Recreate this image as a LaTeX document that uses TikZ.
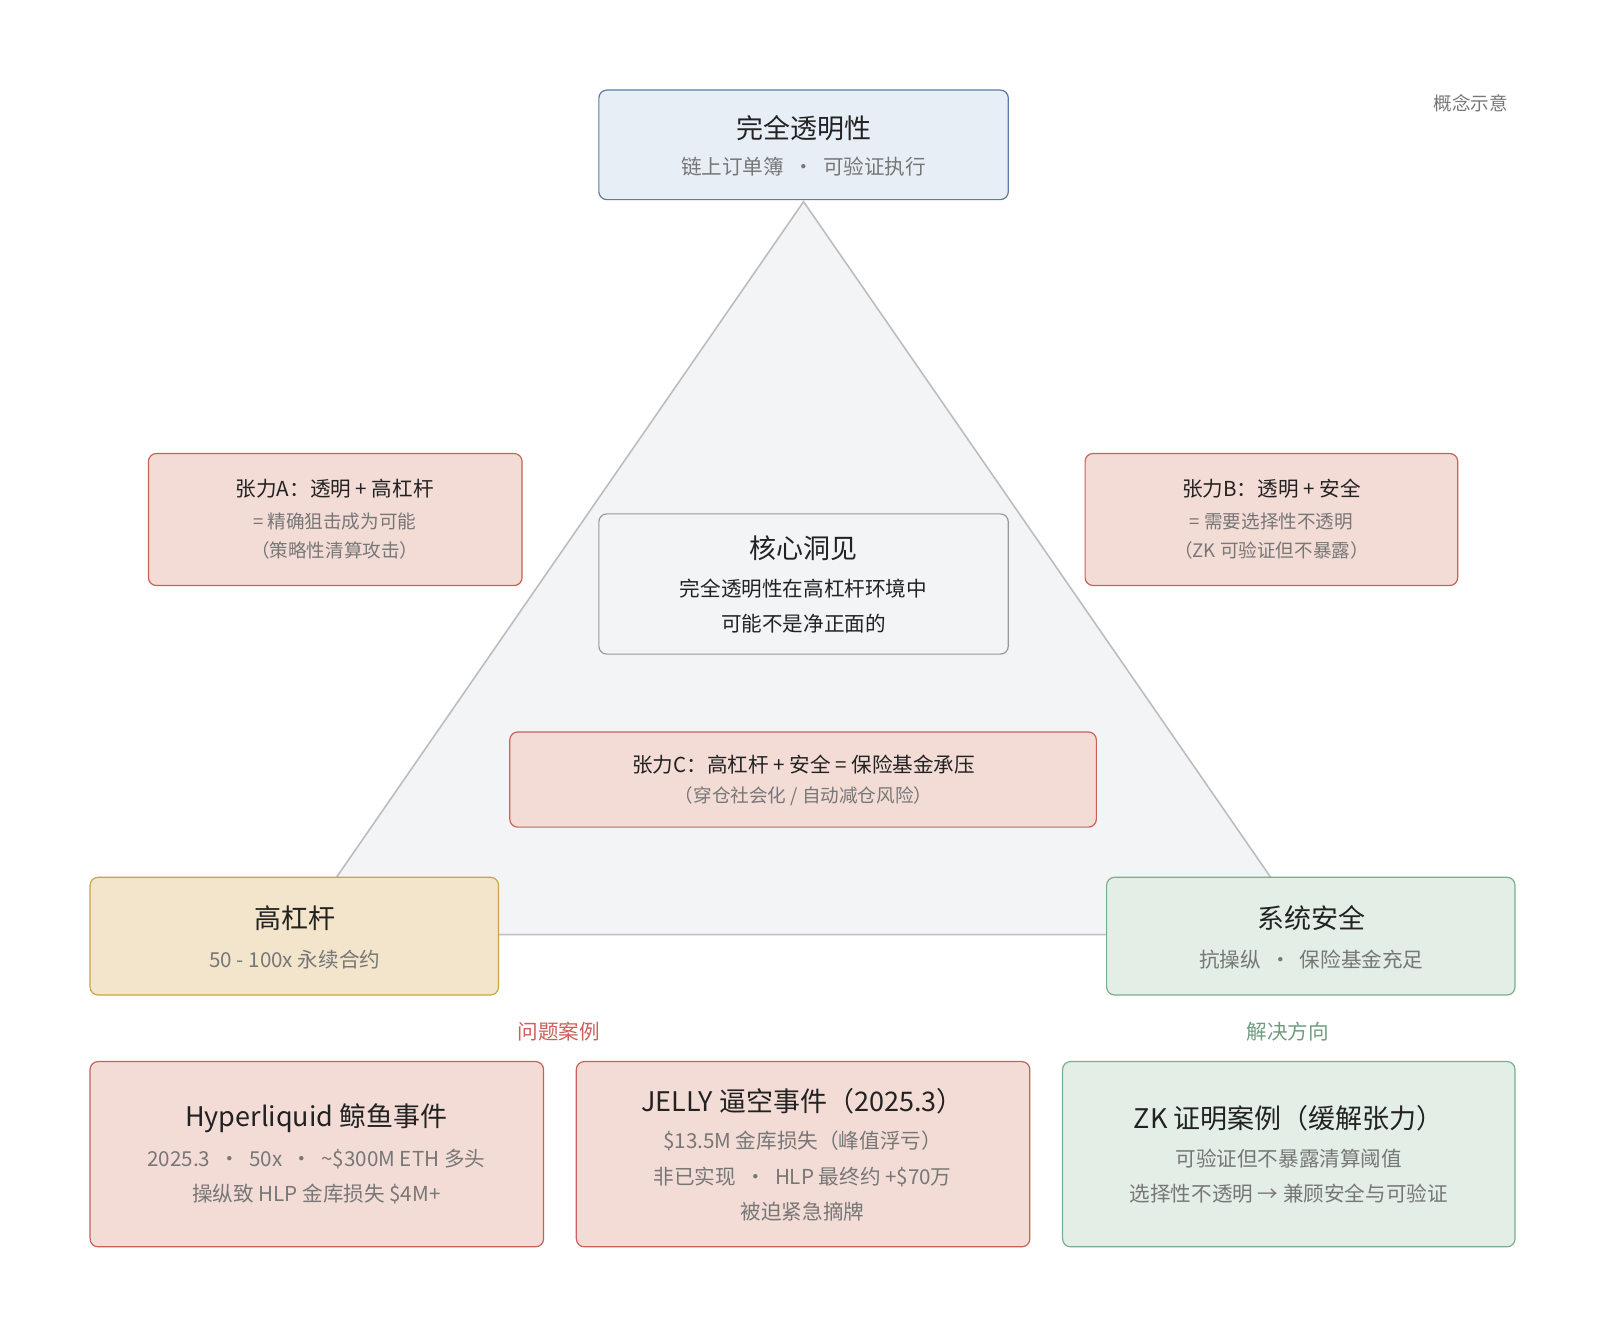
\documentclass[tikz,border=0pt]{standalone}
\usepackage{fontspec}
\setmainfont{Noto Sans CJK SC}
\usetikzlibrary{positioning}
\definecolor{blueF}{HTML}{E8EEF6}\definecolor{blueD}{HTML}{5B7BA0}
\definecolor{redF}{HTML}{F3DCD6}\definecolor{redD}{HTML}{C9605A}
\definecolor{yelF}{HTML}{F2E5CC}\definecolor{yelD}{HTML}{C9A544}
\definecolor{grnF}{HTML}{E2EEE6}\definecolor{grnD}{HTML}{7BAE8C}
\definecolor{triF}{HTML}{F3F4F6}\definecolor{triD}{HTML}{BBBDC0}
\definecolor{txt}{HTML}{222222}\definecolor{sub}{HTML}{777777}
\tikzset{
  box/.style={draw, rounded corners=4pt, line width=0.6pt, inner sep=0pt},
  bluebox/.style={box, fill=blueF, draw=blueD},
  redbox/.style={box, fill=redF, draw=redD},
  yelbox/.style={box, fill=yelF, draw=yelD},
  grnbox/.style={box, fill=grnF, draw=grnD},
  corebox/.style={box, fill=triF, draw=gray!80},
  big/.style={font=\fontsize{13.5}{15}\selectfont, text=txt},
  mid/.style={font=\fontsize{10.3}{12}\selectfont, text=txt},
  lo/.style={font=\fontsize{10.3}{12}\selectfont, text=sub},
  small/.style={font=\fontsize{9.3}{11}\selectfont, text=sub},
}
\begin{document}
\begin{tikzpicture}[x=0.5118pt,y=-0.5118pt]
  \useasboundingbox (0,0) rectangle (1563,1302);

  % triangle
  \coordinate (apex) at (785,197);
  \coordinate (bl) at (290,913);
  \coordinate (br) at (1280,913);
  \filldraw[fill=triF, draw=triD, line width=0.8pt] (apex) -- (bl) -- (br) -- cycle;

  \node[small, anchor=east] (note) at (1480,101) {概念示意};

  % corners
  \draw[bluebox] (585,88) rectangle (985,195);
  \node[big] (topT) at (785,125) {完全透明性};
  \node[lo] (topS) at (785,163) {链上订单簿 \ · \ 可验证执行};

  \draw[yelbox] (88,857) rectangle (487,972);
  \node[big] (levT) at (288,897) {高杠杆};
  \node[lo] (levS) at (288,937) {50 - 100x 永续合约};

  \draw[grnbox] (1081,857) rectangle (1480,972);
  \node[big] (secT) at (1281,897) {系统安全};
  \node[lo] (secS) at (1281,937) {抗操纵 \ · \ 保险基金充足};

  % tensions
  \draw[redbox] (145,443) rectangle (510,572);
  \node[mid] (tA) at (327,477) {张力A：透明 + 高杠杆};
  \node[small] (tA2) at (327,509) {= 精确狙击成为可能};
  \node[small] (tA3) at (327,538) {（策略性清算攻击）};

  \draw[redbox] (1060,443) rectangle (1424,572);
  \node[mid] (tB) at (1242,477) {张力B：透明 + 安全};
  \node[small] (tB2) at (1242,509) {= 需要选择性不透明};
  \node[small] (tB3) at (1242,538) {（ZK 可验证但不暴露）};

  \draw[corebox] (585,502) rectangle (985,639);
  \node[big] (core) at (785,536) {核心洞见};
  \node[mid] (core2) at (785,575) {完全透明性在高杠杆环境中};
  \node[mid] (core3) at (785,609) {可能不是净正面的};

  \draw[redbox] (498,715) rectangle (1071,808);
  \node[mid] (tC) at (785,747) {张力C：高杠杆 + 安全 = 保险基金承压};
  \node[small] (tC2) at (785,778) {（穿仓社会化 / 自动减仓风险）};

  % cases
  \node[font=\fontsize{10.3}{12}\selectfont, text=redD] (prob) at (546,1008) {问题案例};
  \node[font=\fontsize{10.3}{12}\selectfont, text=grnD!90!black] (sol) at (1258,1008) {解决方向};

  \draw[redbox] (88,1037) rectangle (531,1218);
  \node[big] (c1) at (309,1092) {Hyperliquid 鲸鱼事件};
  \node[lo] (c1a) at (309,1132) {2025.3 \ · \ 50x \ · \ \textasciitilde\$300M ETH 多头};
  \node[lo] (c1b) at (309,1166) {操纵致 HLP 金库损失 \$4M+};

  \draw[redbox] (563,1037) rectangle (1006,1218);
  \node[big] (c2) at (784,1076) {JELLY 逼空事件（2025.3）};
  \node[lo] (c2a) at (784,1115) {\$13.5M 金库损失（峰值浮亏）};
  \node[lo] (c2b) at (784,1150) {非已实现 \ · \ HLP 最终约 +\$70万};
  \node[lo] (c2c) at (784,1184) {被迫紧急摘牌};

  \draw[grnbox] (1038,1037) rectangle (1480,1218);
  \node[big] (c3) at (1259,1092) {ZK 证明案例（缓解张力）};
  \node[lo] (c3a) at (1259,1132) {可验证但不暴露清算阈值};
  \node[lo] (c3b) at (1259,1166) {选择性不透明 → 兼顾安全与可验证};
\end{tikzpicture}
\end{document}
